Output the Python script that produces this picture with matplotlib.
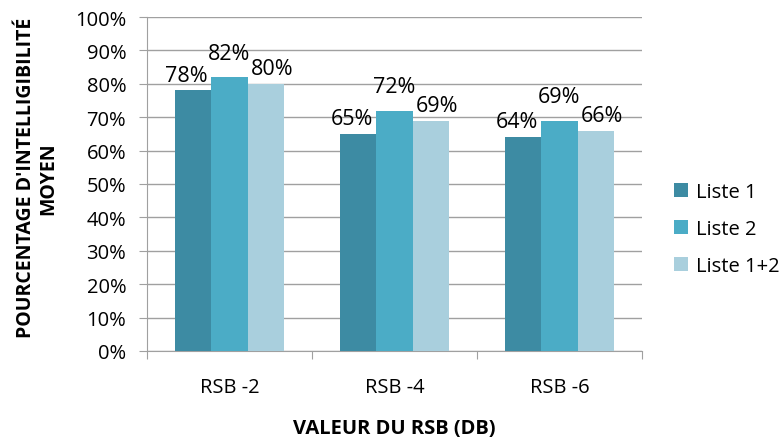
import matplotlib
matplotlib.use("Agg")
import matplotlib.pyplot as plt
import numpy as np

categories = ["RSB -2", "RSB -4", "RSB -6"]
series_names = ["Liste 1", "Liste 2", "Liste 1+2"]
liste1 = [78, 65, 64]
liste2 = [82, 72, 69]
liste12 = [80, 69, 66]
colors = ["#3d8ba3", "#4bacc6", "#a9cfdd"]

plt.rcParams['font.family'] = ['Open Sans', 'DejaVu Sans']

fig = plt.figure(figsize=(7.82, 4.39), dpi=100)
ax = fig.add_axes([147/782, 1-352/439, (642-147)/782, (352-18)/439])

x = np.arange(len(categories))
w = 0.222
label_offsets = [(-4.5, 3.5), (0, 9.5), (4.5, 3.5)]
for i, (vals, name, c) in enumerate(zip([liste1, liste2, liste12], series_names, colors)):
    pos = x + (i - 1) * w
    ax.bar(pos, vals, width=w, color=c, label=name, zorder=3)
    for p, v in zip(pos, vals):
        ax.annotate(f"{v}%", (p, v), xytext=label_offsets[i], textcoords="offset points",
                    ha="center", va="bottom", fontsize=15.5, color="black", zorder=4)

ax.set_xlim(-0.5, len(categories) - 0.5)
ax.set_ylim(0, 100)
ax.set_yticks(np.arange(0, 101, 10))
ax.set_yticklabels([f"{t}%" for t in range(0, 101, 10)], fontsize=14.5)
ax.yaxis.grid(True, color="#a0a0a0", linewidth=1, zorder=0)
ax.set_xticks(np.arange(-0.5, len(categories), 1), minor=False)
ax.set_xticklabels([])
ax.set_xticks(x, minor=True)
ax.set_xticklabels(categories, minor=True, fontsize=14.5)
ax.tick_params(axis="x", which="minor", length=0, pad=19)
ax.tick_params(axis="x", which="major", length=6, color="#a0a0a0")
ax.tick_params(axis="y", length=6, color="#a0a0a0", pad=9)
for s in ["top", "right"]:
    ax.spines[s].set_visible(False)
for s in ["left", "bottom"]:
    ax.spines[s].set_color("#a0a0a0")

ax.set_ylabel("POURCENTAGE D'INTELLIGIBILITÉ\nMOYEN", fontsize=14, fontweight="bold", linespacing=1.1)
ax.yaxis.set_label_coords(-0.18, 0.52)
ax.set_xlabel("VALEUR DU RSB (DB)", fontsize=14.5, fontweight="bold")
ax.xaxis.set_label_coords(0.5, -0.2)

leg = ax.legend(loc="center left", bbox_to_anchor=(1.065, 0.365), frameon=False, fontsize=14.5,
                handlelength=0.7, handleheight=0.7, handletextpad=0.4, labelspacing=0.85,
                borderaxespad=0, borderpad=0)

fig.savefig("out.png", dpi=100)
